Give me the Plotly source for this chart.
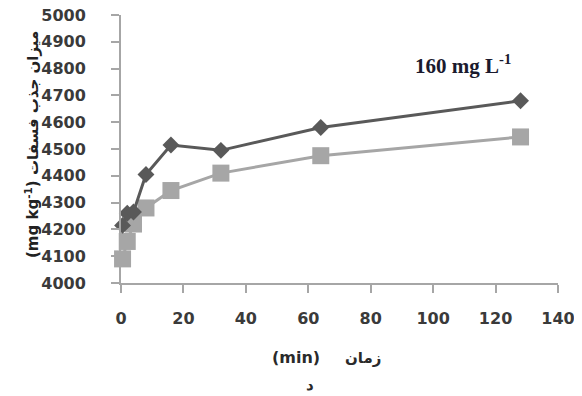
import plotly.graph_objects as go

time_min = [0.5, 2, 4, 8, 16, 32, 64, 128]
uptake_dark = [4215, 4260, 4265, 4405, 4515, 4495, 4580, 4680]
uptake_gray = [4090, 4155, 4220, 4280, 4345, 4410, 4475, 4545]

x_ticks = [0, 20, 40, 60, 80, 100, 120, 140]
y_ticks = list(range(4000, 5001, 100))

# the page body adds an 8px offset; margins compensate so the plot lands where the reference has it
fig = go.Figure()
fig.add_trace(go.Scatter(
    x=time_min, y=uptake_gray, mode="lines+markers",
    line=dict(color="#a6a6a6", width=3),
    marker=dict(symbol="square", size=17, color="#a6a6a6"),
    showlegend=False, cliponaxis=False))
fig.add_trace(go.Scatter(
    x=time_min, y=uptake_dark, mode="lines+markers",
    line=dict(color="#595959", width=3),
    marker=dict(symbol="diamond", size=13, color="#595959"),
    showlegend=False, cliponaxis=False))

axis_font = dict(family="DejaVu Sans", size=16, color="#3a3a3a", weight="bold")
fig.update_layout(
    width=582, height=396,
    margin=dict(l=113, r=32, t=7, b=121),
    plot_bgcolor="white", paper_bgcolor="white",
    xaxis=dict(range=[0, 140], tickvals=x_ticks, showgrid=False, zeroline=False,
               showline=True, linecolor="#a6a6a6", linewidth=2, automargin=False,
               ticks="outside", ticklen=8, tickcolor="#a6a6a6", tickwidth=1.5,
               ticklabelstandoff=12, ticklabeloverflow="allow", tickfont=axis_font),
    yaxis=dict(range=[4000, 5000], tickvals=y_ticks, showgrid=False, zeroline=False,
               showline=True, linecolor="#a6a6a6", linewidth=2, automargin=False,
               ticks="outside", ticklen=8, tickcolor="#a6a6a6", tickwidth=1.5,
               ticklabelstandoff=22, ticklabeloverflow="allow", tickfont=axis_font),
)

title_font = dict(family="DejaVu Sans", size=15, color="#222222", weight="bold")
fig.add_annotation(text="(mg kg<sup>-1</sup>) میزان جذب فسفات", textangle=-90,
                   xref="paper", yref="paper", x=(32 - 121) / 437, y=(283 - 145) / 268,
                   xanchor="center", yanchor="middle", showarrow=False,
                   font=title_font)
fig.add_annotation(text="160 mg L<sup>-1</sup>",
                   xref="paper", yref="paper", x=(463 - 121) / 437, y=(283 - 64) / 268,
                   xanchor="center", yanchor="middle", showarrow=False,
                   font=dict(family="Liberation Serif", size=21, color="#1a1a2e", weight="bold"))
fig.add_annotation(text="(min)", xref="paper", yref="paper",
                   x=(296 - 121) / 437, y=-(357 - 283) / 268,
                   xanchor="center", yanchor="middle", showarrow=False,
                   font=dict(family="DejaVu Sans", size=16, color="#2a2a2a", weight="bold"))
fig.add_annotation(text="زمان", xref="paper", yref="paper",
                   x=(363 - 121) / 437, y=-(358 - 283) / 268,
                   xanchor="center", yanchor="middle", showarrow=False,
                   font=dict(family="DejaVu Sans", size=15, color="#2a2a2a", weight="bold"))
fig.add_annotation(text="د", xref="paper", yref="paper",
                   x=(310 - 121) / 437, y=-(385 - 283) / 268,
                   xanchor="center", yanchor="middle", showarrow=False,
                   font=dict(family="DejaVu Sans", size=15, color="#2a2a2a", weight="bold"))

fig.write_html("out.html")
